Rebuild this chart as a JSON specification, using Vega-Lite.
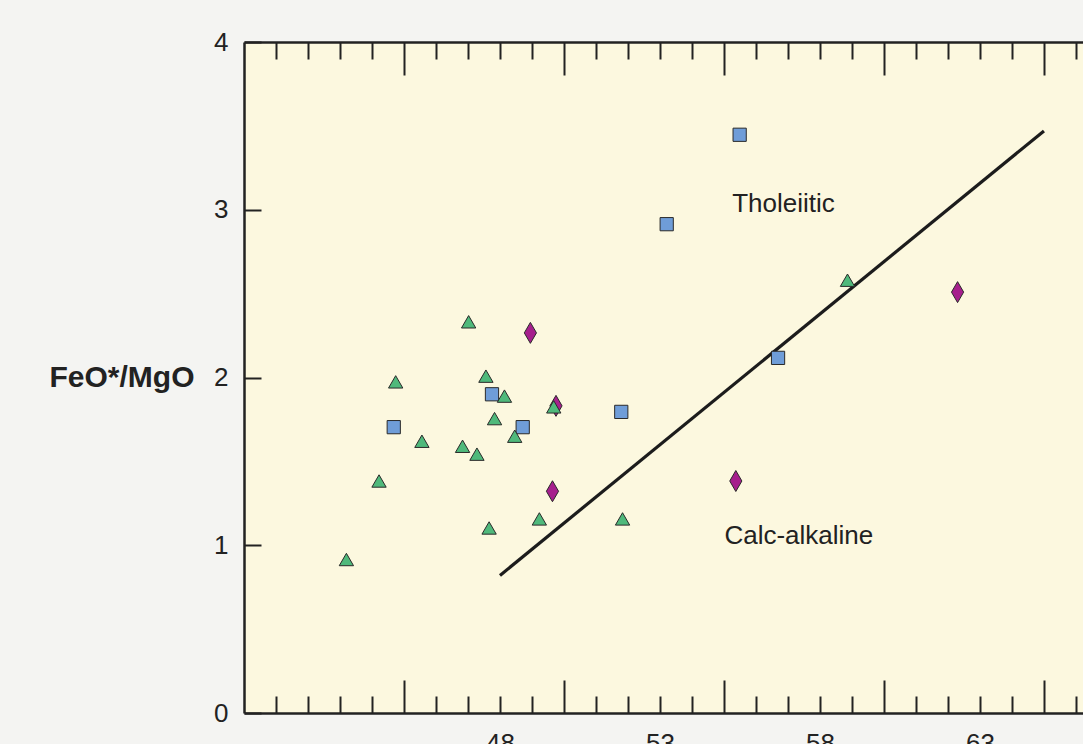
{
  "$schema": "https://vega.github.io/schema/vega-lite/v6.json",
  "width": 839,
  "height": 671,
  "autosize": {"type": "none"},
  "padding": {"left": 244, "top": 42, "right": 0, "bottom": 31},
  "background": "#f4f4f2",
  "config": {
    "view": {"stroke": null, "fill": "#fcf8df"},
    "axis": {
      "domainColor": "#222222",
      "domainWidth": 2.5,
      "tickColor": "#222222",
      "tickWidth": 2,
      "labelFont": "Liberation Sans",
      "labelFontSize": 26,
      "labelColor": "#222222",
      "grid": false
    }
  },
  "datasets": {
    "pts": [
      {"silica": 48.95, "ratio": 2.266, "group": "diamond"},
      {"silica": 49.75, "ratio": 1.831, "group": "diamond"},
      {"silica": 49.64, "ratio": 1.322, "group": "diamond"},
      {"silica": 55.37, "ratio": 1.383, "group": "diamond"},
      {"silica": 62.3, "ratio": 2.509, "group": "diamond"},
      {"silica": 44.68, "ratio": 1.704, "group": "square"},
      {"silica": 47.75, "ratio": 1.9, "group": "square"},
      {"silica": 48.71, "ratio": 1.704, "group": "square"},
      {"silica": 51.79, "ratio": 1.795, "group": "square"},
      {"silica": 53.21, "ratio": 2.914, "group": "square"},
      {"silica": 55.49, "ratio": 3.447, "group": "square"},
      {"silica": 56.69, "ratio": 2.117, "group": "square"},
      {"silica": 43.2, "ratio": 0.915, "group": "triangle"},
      {"silica": 44.22, "ratio": 1.383, "group": "triangle"},
      {"silica": 44.74, "ratio": 1.974, "group": "triangle"},
      {"silica": 45.56, "ratio": 1.62, "group": "triangle"},
      {"silica": 46.83, "ratio": 1.59, "group": "triangle"},
      {"silica": 47.02, "ratio": 2.332, "group": "triangle"},
      {"silica": 47.28, "ratio": 1.543, "group": "triangle"},
      {"silica": 47.56, "ratio": 2.008, "group": "triangle"},
      {"silica": 47.66, "ratio": 1.103, "group": "triangle"},
      {"silica": 47.83, "ratio": 1.755, "group": "triangle"},
      {"silica": 48.14, "ratio": 1.889, "group": "triangle"},
      {"silica": 48.46, "ratio": 1.65, "group": "triangle"},
      {"silica": 49.23, "ratio": 1.157, "group": "triangle"},
      {"silica": 49.68, "ratio": 1.825, "group": "triangle"},
      {"silica": 51.83, "ratio": 1.157, "group": "triangle"},
      {"silica": 58.86, "ratio": 2.58, "group": "triangle"}
    ],
    "divider": [
      {"silica": 48.0, "ratio": 0.82},
      {"silica": 65.0, "ratio": 3.47}
    ],
    "labels": [
      {"silica": 56.86, "ratio": 2.985, "text": "Tholeiitic"},
      {"silica": 57.34, "ratio": 1.005, "text": "Calc-alkaline"}
    ]
  },
  "resolve": {"axis": {"x": "independent", "y": "independent"}},
  "layer": [
    {
      "data": {"name": "divider"},
      "mark": {"type": "line", "stroke": "#1c1c1c", "strokeWidth": 3.2},
      "encoding": {
        "x": {
          "field": "silica", "type": "quantitative",
          "scale": {"domain": [40, 66.22], "nice": false, "zero": false},
          "axis": {
            "orient": "top",
            "values": [41,42,43,44,45,46,47,48,49,50,51,52,53,54,55,56,57,58,59,60,61,62,63,64,65,66],
            "tickSize": {"condition": {"test": "datum.value % 5 === 0", "value": -33}, "value": -17},
            "labels": false,
            "title": null
          }
        },
        "y": {
          "field": "ratio", "type": "quantitative",
          "scale": {"domain": [0, 4], "nice": false, "zero": true},
          "axis": {
            "values": [0, 1, 2, 3, 4],
            "tickSize": -17,
            "labelPadding": 33,
            "labelFlush": false,
            "title": "FeO*/MgO",
            "titleAngle": 0,
            "titleFont": "Liberation Sans",
            "titleFontWeight": "bold",
            "titleFontSize": 30,
            "titleColor": "#222222",
            "titleAlign": "right",
            "titleBaseline": "middle",
            "titleX": -50,
            "titleY": 335
          }
        }
      }
    },
    {
      "data": {"name": "pts"},
      "mark": {"type": "point", "filled": true, "stroke": "#2a2a2a", "strokeWidth": 1, "opacity": 1},
      "encoding": {
        "x": {
          "field": "silica", "type": "quantitative",
          "scale": {"domain": [40, 66.22], "nice": false, "zero": false},
          "axis": {
            "orient": "bottom",
            "values": [41,42,43,44,45,46,47,48,49,50,51,52,53,54,55,56,57,58,59,60,61,62,63,64,65,66],
            "tickSize": {"condition": {"test": "datum.value % 5 === 0", "value": -33}, "value": -17},
            "labelExpr": "datum.value >= 48 && (datum.value - 48) % 5 === 0 ? datum.label : ''",
            "labelPadding": 34,
            "labelFlush": false,
            "labelOverlap": false,
            "title": null
          }
        },
        "y": {
          "field": "ratio", "type": "quantitative",
          "scale": {"domain": [0, 4], "nice": false, "zero": true},
          "axis": null
        },
        "shape": {
          "field": "group", "type": "nominal",
          "scale": {"domain": ["triangle", "square", "diamond"], "range": ["triangle-up", "square", "M0,-1L0.58,0L0,1L-0.58,0Z"]},
          "legend": null
        },
        "size": {
          "field": "group", "type": "nominal",
          "scale": {"type": "ordinal", "domain": ["triangle", "square", "diamond"], "range": [205, 175, 440]},
          "legend": null
        },
        "fill": {
          "field": "group", "type": "nominal",
          "scale": {"domain": ["triangle", "square", "diamond"], "range": ["#4fb97b", "#6f9dd8", "#a61f8d"]},
          "legend": null
        }
      }
    },
    {
      "data": {"name": "labels"},
      "mark": {"type": "text", "font": "Liberation Sans", "fontSize": 26, "color": "#222222", "align": "center", "baseline": "alphabetic"},
      "encoding": {
        "x": {"field": "silica", "type": "quantitative", "scale": {"domain": [40, 66.22], "nice": false, "zero": false}, "axis": null},
        "y": {"field": "ratio", "type": "quantitative", "scale": {"domain": [0, 4], "nice": false, "zero": true}, "axis": null},
        "text": {"field": "text", "type": "nominal"}
      }
    }
  ]
}
